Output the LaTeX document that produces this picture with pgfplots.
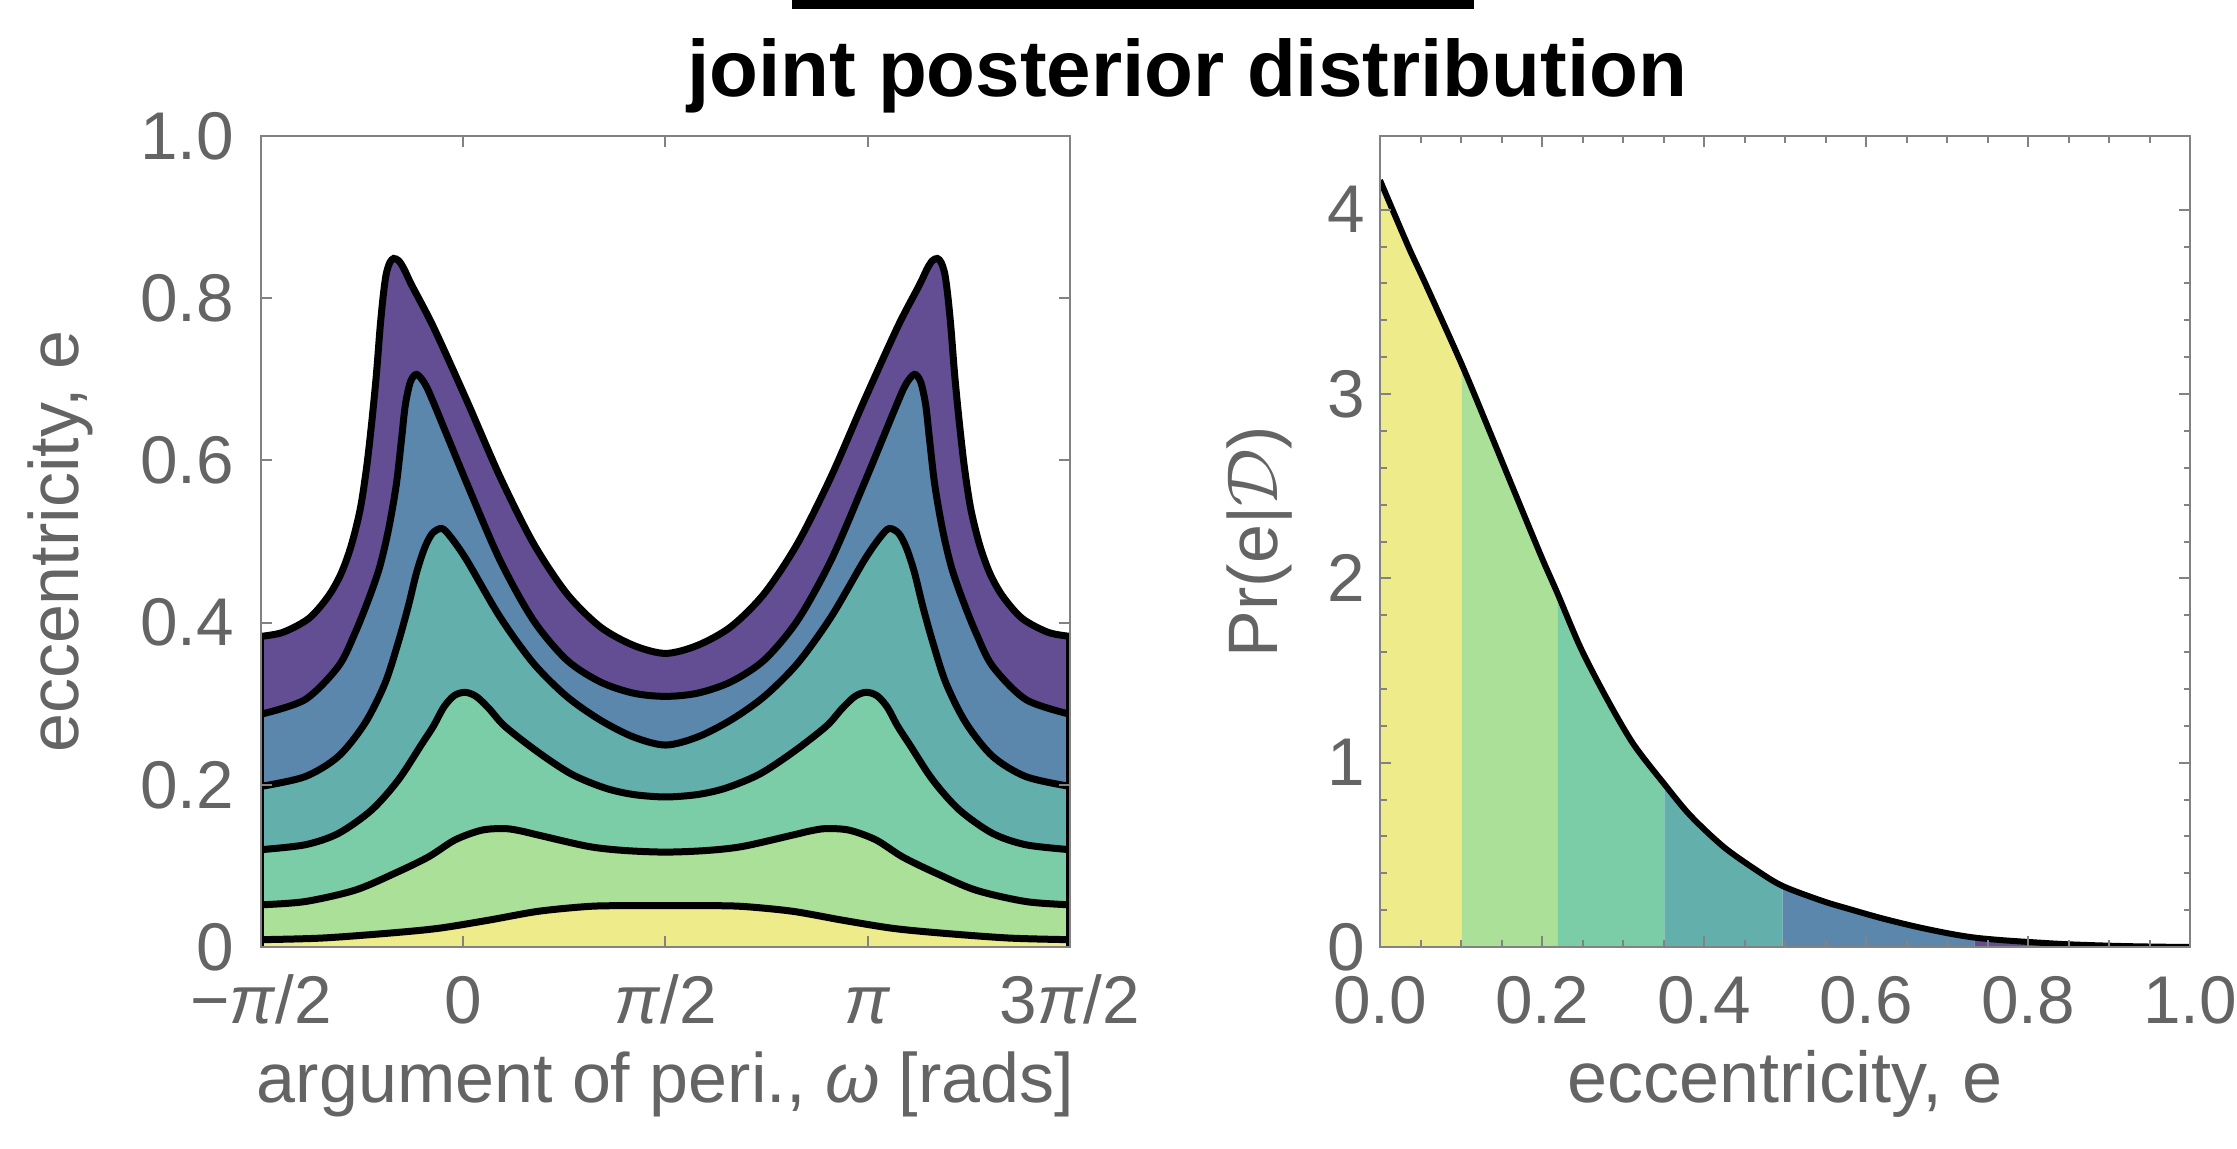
\documentclass[border=0pt]{standalone}
\usepackage{fontspec}
\setmainfont{Liberation Sans}
\usepackage{pgfplots}
\usepackage{pgfplotstable}
\pgfplotsset{compat=1.18}

\definecolor{cY}{RGB}{238,235,138}
\definecolor{cLG}{RGB}{171,224,152}
\definecolor{cG}{RGB}{123,205,167}
\definecolor{cT}{RGB}{99,175,172}
\definecolor{cB}{RGB}{91,135,172}
\definecolor{cP}{RGB}{99,78,147}
\definecolor{axgray}{RGB}{130,130,130}
\definecolor{txtgray}{RGB}{100,100,100}

% contour levels of the joint posterior (omega in rad, e)
\pgfplotstableread{
x y
-1.571 0.383
-1.400 0.388
-1.200 0.405
-1.050 0.432
-0.950 0.460
-0.870 0.495
-0.800 0.540
-0.750 0.592
-0.710 0.648
-0.675 0.705
-0.645 0.765
-0.620 0.805
-0.598 0.830
-0.570 0.844
-0.540 0.849
-0.500 0.846
-0.460 0.836
-0.400 0.816
-0.233 0.765
0.027 0.674
0.285 0.580
0.544 0.498
0.803 0.436
1.062 0.395
1.321 0.372
1.571 0.362
1.821 0.372
2.080 0.395
2.339 0.436
2.598 0.498
2.857 0.580
3.115 0.674
3.375 0.765
3.542 0.816
3.602 0.836
3.642 0.846
3.682 0.849
3.712 0.844
3.740 0.830
3.762 0.805
3.787 0.765
3.817 0.705
3.852 0.648
3.892 0.592
3.942 0.540
4.012 0.495
4.092 0.460
4.192 0.432
4.342 0.405
4.542 0.388
4.712 0.383
}\levelsix

\pgfplotstableread{
x y
-1.571 0.287
-1.229 0.305
-0.970 0.346
-0.841 0.387
-0.737 0.428
-0.650 0.468
-0.580 0.515
-0.520 0.570
-0.480 0.625
-0.450 0.668
-0.410 0.697
-0.362 0.706
-0.300 0.695
-0.233 0.672
0.027 0.572
0.285 0.477
0.544 0.403
0.803 0.354
1.062 0.327
1.321 0.313
1.571 0.309
1.821 0.313
2.080 0.327
2.339 0.354
2.598 0.403
2.857 0.477
3.115 0.572
3.375 0.672
3.442 0.695
3.504 0.706
3.552 0.697
3.592 0.668
3.622 0.625
3.662 0.570
3.722 0.515
3.792 0.468
3.879 0.428
3.983 0.387
4.112 0.346
4.371 0.305
4.712 0.287
}\levelfive

\pgfplotstableread{
x y
-1.571 0.198
-1.229 0.210
-0.970 0.235
-0.763 0.276
-0.608 0.325
-0.504 0.376
-0.427 0.420
-0.362 0.462
-0.300 0.492
-0.240 0.510
-0.167 0.516
-0.100 0.506
0.027 0.477
0.285 0.407
0.544 0.350
0.803 0.309
1.062 0.280
1.321 0.259
1.571 0.249
1.821 0.259
2.080 0.280
2.339 0.309
2.598 0.350
2.857 0.407
3.115 0.477
3.242 0.506
3.309 0.516
3.382 0.510
3.442 0.492
3.504 0.462
3.569 0.420
3.646 0.376
3.750 0.325
3.905 0.276
4.112 0.235
4.371 0.210
4.712 0.198
}\levelfour

\pgfplotstableread{
x y
-1.571 0.120
-1.229 0.126
-0.970 0.140
-0.711 0.169
-0.504 0.206
-0.323 0.250
-0.233 0.272
-0.150 0.296
-0.070 0.310
0.014 0.314
0.100 0.309
0.200 0.294
0.324 0.272
0.583 0.240
0.842 0.213
1.101 0.196
1.321 0.188
1.571 0.185
1.821 0.188
2.041 0.196
2.300 0.213
2.559 0.240
2.818 0.272
2.942 0.294
3.042 0.309
3.128 0.314
3.212 0.310
3.292 0.296
3.375 0.272
3.465 0.250
3.646 0.206
3.853 0.169
4.112 0.140
4.371 0.126
4.712 0.120
}\levelthree

\pgfplotstableread{
x y
-1.571 0.052
-1.229 0.056
-0.841 0.070
-0.530 0.091
-0.271 0.111
-0.064 0.132
0.143 0.144
0.324 0.146
0.450 0.143
0.583 0.138
0.971 0.124
1.250 0.119
1.571 0.117
1.892 0.119
2.171 0.124
2.559 0.138
2.692 0.143
2.818 0.146
2.999 0.144
3.206 0.132
3.413 0.111
3.672 0.091
3.983 0.070
4.371 0.056
4.712 0.052
}\levelto

\pgfplotstableread{
x y
-1.571 0.009
-1.099 0.011
-0.582 0.017
-0.194 0.023
0.195 0.033
0.583 0.044
0.971 0.050
1.250 0.051
1.571 0.051
1.892 0.051
2.171 0.050
2.559 0.044
2.947 0.033
3.336 0.023
3.724 0.017
4.241 0.011
4.712 0.009
}\levelone

% marginal posterior of e
\pgfplotstableread{
x y
0.000 4.160
0.035 3.800
0.056 3.600
0.101 3.160
0.137 2.780
0.166 2.470
0.199 2.120
0.219 1.920
0.248 1.620
0.281 1.340
0.313 1.100
0.351 0.884
0.383 0.714
0.424 0.544
0.465 0.416
0.497 0.331
0.546 0.250
0.580 0.205
0.621 0.154
0.663 0.109
0.704 0.072
0.734 0.051
0.765 0.038
0.798 0.028
0.848 0.015
0.909 0.006
0.958 0.002
1.000 0.000
}\margpdf

\pgfplotsset{
  panel/.style={
    scale only axis,
    anchor=south west,
    axis on top,
    tick align=inside,
    major tick length=2.2pt,
    minor tick length=1.3pt,
    axis line style={axgray, line width=0.4pt},
    every tick/.style={axgray, line width=0.4pt},
    /pgf/number format/assume math mode=true,
    ticklabel style={font=\fontsize{13.5}{13.5}\selectfont, text=txtgray},
    xticklabel style={anchor=base, yshift=-15.4pt},
    label style={font=\fontsize{14}{14}\selectfont, text=txtgray},
  },
  contour/.style={black, line width=1.4pt, smooth},
}

\begin{document}
\begin{tikzpicture}[x=1pt,y=1pt]
\useasboundingbox (0,0) rectangle (447.4,229.8);
\fill[black] (158.4,228.0) rectangle (294.8,229.8);
\node[anchor=base, font=\fontsize{16}{16}\selectfont\bfseries] at (237.4,210.4) {joint posterior distribution};

\begin{axis}[panel,
  at={(52.2pt,40.4pt)}, width=161.8pt, height=162.2pt,
  xmin=-1.5708, xmax=4.7124, ymin=0, ymax=1,
  xtick={-1.5708,0,1.5708,3.1416,4.7124},
  xticklabels={−\textit{π}/2, 0, \textit{π}/2, \textit{π}, 3\textit{π}/2},
  ytick={0,0.2,0.4,0.6,0.8,1.0},
  yticklabels={0,0.2,0.4,0.6,0.8,1.0},
  yticklabel style={anchor=east, inner sep=0pt, xshift=-5.2pt},
  xlabel={argument of peri., \textit{ω} [rads]},
  xlabel style={at={(axis description cs:0.5,-0.192)}, anchor=base},
  ylabel={eccentricity, e},
  ylabel style={at={(axis description cs:-0.226,0.5)}, anchor=base},
]
\addplot[fill=cP, draw=none, smooth] table {\levelsix} \closedcycle;
\addplot[fill=cB, draw=none, smooth] table {\levelfive} \closedcycle;
\addplot[fill=cT, draw=none, smooth] table {\levelfour} \closedcycle;
\addplot[fill=cG, draw=none, smooth] table {\levelthree} \closedcycle;
\addplot[fill=cLG, draw=none, smooth] table {\levelto} \closedcycle;
\addplot[fill=cY, draw=none, smooth] table {\levelone} \closedcycle;
\addplot[contour] table {\levelsix};
\addplot[contour] table {\levelfive};
\addplot[contour] table {\levelfour};
\addplot[contour] table {\levelthree};
\addplot[contour] table {\levelto};
\addplot[contour] table {\levelone};
\addplot[black, line width=1.4pt] coordinates {(-1.5708,0) (-1.5708,0.383)};
\addplot[black, line width=1.4pt] coordinates {(4.7124,0) (4.7124,0.383)};
\end{axis}

\begin{axis}[panel,
  at={(276pt,40.4pt)}, width=162pt, height=162.2pt,
  xmin=0, xmax=1, ymin=0, ymax=4.4,
  xtick={0,0.2,0.4,0.6,0.8,1.0},
  xticklabels={0.0,0.2,0.4,0.6,0.8,1.0},
  minor x tick num=3,
  ytick={0,1,2,3,4},
  yticklabels={0,1,2,3,4},
  minor y tick num=4,
  yticklabel style={anchor=east, inner sep=0pt, xshift=-2.8pt},
  xlabel={eccentricity, e},
  xlabel style={at={(axis description cs:0.5,-0.192)}, anchor=base, font=\fontsize{14.4}{14.4}\selectfont},
  ylabel={Pr(e|$\mathcal{D}$)},
  ylabel style={at={(axis description cs:-0.127,0.5)}, anchor=base},
]
\addplot[fill=cY, draw=none, smooth, restrict x to domain=0:0.1015] table {\margpdf} \closedcycle;
\addplot[fill=cLG, draw=none, smooth, restrict x to domain=0.1005:0.2195] table {\margpdf} \closedcycle;
\addplot[fill=cG, draw=none, smooth, restrict x to domain=0.2185:0.3515] table {\margpdf} \closedcycle;
\addplot[fill=cT, draw=none, smooth, restrict x to domain=0.3505:0.4975] table {\margpdf} \closedcycle;
\addplot[fill=cB, draw=none, smooth, restrict x to domain=0.4965:0.7345] table {\margpdf} \closedcycle;
\addplot[fill=cP, draw=none, smooth, restrict x to domain=0.7335:1.01] table {\margpdf} \closedcycle;
\addplot[black, line width=1.2pt, smooth] table {\margpdf};
\end{axis}
\end{tikzpicture}
\end{document}
